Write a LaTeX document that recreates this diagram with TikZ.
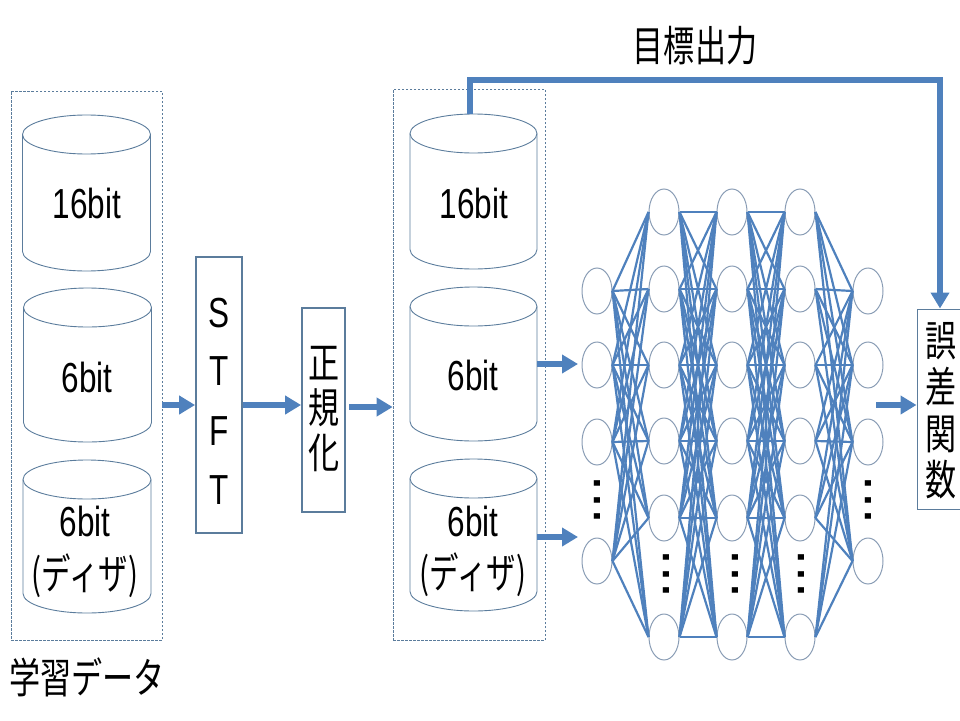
\documentclass[tikz,border=0pt]{standalone}
\usepackage{fontspec}
\setmainfont{Liberation Sans}
\newfontfamily\jpf{Noto Sans CJK JP}
\usetikzlibrary{shapes.geometric,arrows.meta}
\definecolor{edgeblue}{HTML}{4F81BD}
\definecolor{boxline}{HTML}{5B7C9C}
\definecolor{circline}{HTML}{8A9DB5}
\newcommand{\bigf}{\fontsize{42}{46}\selectfont}
\newcommand{\sq}[1]{\scalebox{0.75}[1]{#1}}
\newcommand{\jq}[1]{\scalebox{0.74}[1]{\jpf #1}}
\newcommand{\jp}[1]{\scalebox{0.70}[1]{\jpf #1}}
\newcommand{\cylshape}[5]{% name, cx, top, bottom, half width
  \node[minimum width=2*#5 pt,minimum height=#4 pt-#3 pt,inner sep=0pt] (#1) at (#2,{(#3+#4)/2}) {};
  \draw[cylline] (#2-#5,#3+19.5) -- (#2-#5,#4-19.5) arc[start angle=180,end angle=360,x radius=#5 pt,y radius=19.5pt] -- (#2+#5,#3+19.5);
  \draw[cylline] (#2,#3+19.5) ellipse[x radius=#5 pt,y radius=19.5pt];
}
\tikzset{
  cylline/.style={draw=boxline,line width=0.9pt},
  dashbox/.style={draw=boxline,dash pattern=on 2.5pt off 1.5pt,line width=0.7pt,inner sep=0pt},
  procbox/.style={draw=boxline,line width=1.8pt,inner sep=0pt},
  flow/.style={edgeblue,line width=5.5pt,-{Triangle[length=16pt,width=18pt]}},
  neuron/.style={ellipse,draw=circline,line width=1pt,minimum width=30pt,minimum height=46pt,inner sep=0pt},
  link/.style={edgeblue,line width=2.2pt},
  lbl/.style={inner sep=0pt,font=\bigf,text=black},
  dotsv/.style={inner sep=0pt,font=\fontsize{58}{58}\selectfont},
}
\begin{document}
\begin{tikzpicture}[x=1pt,y=-1pt]
\useasboundingbox (0,0) rectangle (960,720);
% dashed groups
\node[dashbox,minimum width=151pt,minimum height=549pt] (grpL) at (86.5,365.5) {};
\node[dashbox,minimum width=152pt,minimum height=551pt] (grpR) at (469,364.5) {};
% cylinders left
\cylshape{la}{86.5}{115}{271}{64}
\cylshape{lb}{87.5}{288}{442}{64}
\cylshape{lc}{87}{460}{613}{64}
\node[lbl] (lat) at (87,203) {\sq{16bit}};
\node[lbl] (lbt) at (87,377) {\sq{6bit}};
\node[lbl] (lct) at (85,521) {\sq{6bit}};
\node[lbl] (lcu) at (85,576) {\jp{(ディザ)}};
% cylinders right
\cylshape{ra}{473.5}{114}{269}{63.5}
\cylshape{rb}{473.5}{287}{441}{63.5}
\cylshape{rc}{473.5}{459}{611}{63.5}
\node[lbl] (rat) at (474,203) {\sq{16bit}};
\node[lbl] (rbt) at (473,375) {\sq{6bit}};
\node[lbl] (rct) at (473,521) {\sq{6bit}};
\node[lbl] (rcu) at (473,575) {\jp{(ディザ)}};
% process boxes
\node[procbox,minimum width=46pt,minimum height=276pt] (stft) at (219,395) {};
\node[lbl] (s1) at (219,313) {\sq{S}};
\node[lbl] (s2) at (219,371) {\sq{T}};
\node[lbl] (s3) at (219,431) {\sq{F}};
\node[lbl] (s4) at (219,490) {\sq{T}};
\node[procbox,minimum width=43pt,minimum height=204pt] (norm) at (323.5,410) {};
\node[lbl] (n1) at (324,363) {\jq{正}};
\node[lbl] (n2) at (324,408) {\jq{規}};
\node[lbl] (n3) at (324,453) {\jq{化}};
\node[draw=boxline,line width=1pt,inner sep=0pt,minimum width=50pt,minimum height=200pt] (loss) at (942,409) {};
\node[lbl] (e1) at (941,341) {\jq{誤}};
\node[lbl] (e2) at (941,387) {\jq{差}};
\node[lbl] (e3) at (941,434) {\jq{関}};
\node[lbl] (e4) at (941,480) {\jq{数}};
% labels
\node[lbl] (tl) at (87,677) {\jq{学習データ}};
\node[lbl] (tt) at (695,46) {\jq{目標出力}};
% neurons
\foreach \c/\x in {a/597,e/868}
  \foreach \r/\y in {1/291,2/365,3/442,4/561}
    \node[neuron] (\c\r) at (\x,\y) {};
\foreach \c/\x in {b/664,c/732,d/800}
  \foreach \r/\y in {1/212,2/289,3/365,4/441,5/518,6/637}
    \node[neuron] (\c\r) at (\x,\y) {};
% links
\foreach \i in {1,2,3,4}\foreach \j in {1,...,6}{
  \draw[link] (a\i.east) -- (b\j.west);
  \draw[link] (d\j.east) -- (e\i.west);
}
\foreach \i in {1,...,6}\foreach \j in {1,...,6}{
  \draw[link] (b\i.east) -- (c\j.west);
  \draw[link] (c\i.east) -- (d\j.west);
}
% dots
\foreach \n/\x/\y in {va/597/500,ve/868/500,vb/666/574,vc/735/574,vd/801/574}
  \node[dotsv] (\n) at (\x,\y) {\rotatebox{90}{...}};
% flows
\coordinate (f1) at (0,405);
\coordinate (f2) at (0,407);
\coordinate (f3) at (0,364);
\coordinate (f4) at (0,537);
\coordinate (g1) at (578,0);
\coordinate (g2) at (876,405);
\coordinate (g3) at (349,0);
\coordinate (h1) at (470,80);
\coordinate (h2) at (940,80);
\draw[flow] (grpL.east |- f1) -- (stft.west |- f1);
\draw[flow] (stft.east |- f1) -- (norm.west |- f1);
\draw[flow] (g3 |- f2) -- (grpR.west |- f2);
\draw[flow] (rb.east |- f3) -- (g1 |- f3);
\draw[flow] (rc.east |- f4) -- (g1 |- f4);
\draw[flow] (g2) -- (loss.west |- g2);
\draw[flow] (h1 |- ra.north) -- (h1) -- (h2) -- (loss.north -| h2);
\end{tikzpicture}
\end{document}
